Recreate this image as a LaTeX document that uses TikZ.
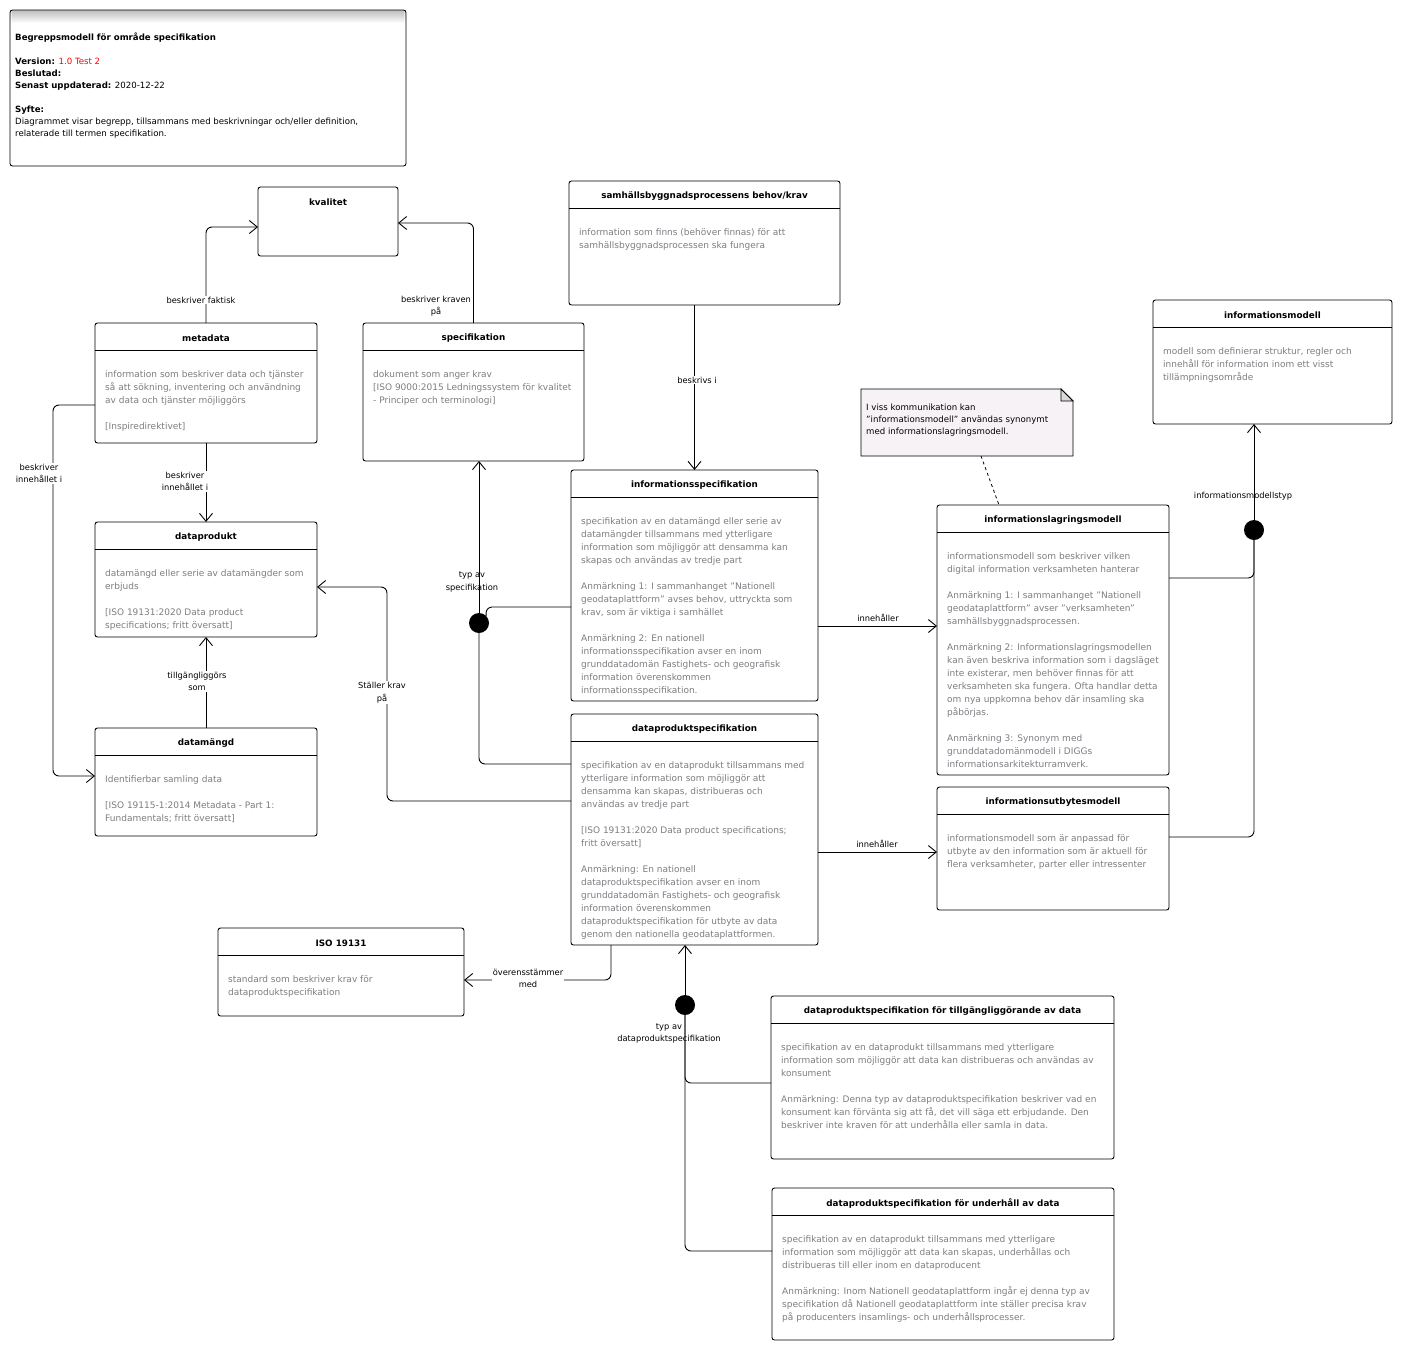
\documentclass[tikz,border=0pt]{standalone}
\usepackage{fontspec}
\setmainfont{DejaVu Sans}
\usepackage{xcolor}
\usepackage{tikz}
\usetikzlibrary{arrows.meta, positioning, calc}

\definecolor{brodgra}{RGB}{125,125,130}
\definecolor{notisfarg}{RGB}{247,242,246}

\tikzset{
    klass/.style={
        rectangle, rounded corners=2.5pt, draw=black, line width=0.9pt,
        inner sep=0pt, outer sep=0pt, anchor=north west
    },
    rubrik/.style={
        font=\fontsize{8.8}{13}\selectfont\bfseries, inner sep=0pt
    },
    brodtext/.style={
        anchor=north west, align=left, inner sep=0pt, text=brodgra,
        font=\fontsize{9}{13}\selectfont
    },
    ramtext/.style={
        anchor=north west, align=left, inner sep=0pt,
        font=\fontsize{8.6}{12}\selectfont
    },
    klasslinje/.style={line width=0.9pt},
    pil/.style={
        line width=0.9pt, rounded corners=6pt,
        -{Straight Barb[length=8pt, width=13pt]}
    },
    linje/.style={line width=0.9pt, rounded corners=6pt},
    streckad/.style={line width=0.8pt, dash pattern=on 3pt off 3pt},
    etikett/.style={
        font=\fontsize{8.3}{12.5}\selectfont, align=center,
        inner sep=1pt, fill=white
    },
    typetikett/.style={etikett, fill=none},
    knut/.style={circle, fill=black, minimum size=20pt, inner sep=0pt, outer sep=0pt},
    notis/.style={anchor=north west, inner sep=0pt, outer sep=0pt}
}

% begreppsruta: namn, vänster, topp, höger, botten, rubrik, text
\newcommand{\begrepp}[7]{%
    \node[klass, minimum width={(#4-#2)*1pt}, minimum height={(#5-#3)*1pt}] (#1) at (#2,#3) {};
    \node[rubrik] (#1-rubrik) at ($(#1.north)+(0,15.5)$) {#6};
    \draw[klasslinje] ($(#1.north west)+(0,27)$) -- ($(#1.north east)+(0,27)$);
    \node[brodtext] (#1-text) at ($(#1.north west)+(10,47)$) {#7};
}
\newcommand{\tomrad}{\\[13pt]\relax}

\begin{document}
\begin{tikzpicture}[x=1pt, y=-1pt]
    \useasboundingbox (0,0) rectangle (1403,1352);

    % ram med diagraminformation
    \node[klass, minimum width=396pt, minimum height=156pt,
        path picture={
            \foreach \i in {0,...,13}
                \fill[black!\the\numexpr 26-2*\i\relax]
                    ($(path picture bounding box.north west)+(0,\i)$) rectangle
                    ($(path picture bounding box.north east)+(0,\i+1)$);
        }] (ram) at (10,10) {};
    \node[ramtext] (ram-text) at (15,33) {\textbf{Begreppsmodell för område specifikation}\\[12pt]
        \textbf{Version:} \textcolor{red}{1.0 Test 2}\\
        \textbf{Beslutad:}\\
        \textbf{Senast uppdaterad:} 2020-12-22\\[12pt]
        \textbf{Syfte:}\\
        Diagrammet visar begrepp, tillsammans med beskrivningar och/eller definition,\\
        relaterade till termen specifikation.};

    % begrepp
    \node[klass, minimum width=140pt, minimum height=69pt] (kvalitet) at (258,187) {};
    \node[rubrik] (kvalitet-rubrik) at ($(kvalitet.north)+(0,15.5)$) {kvalitet};

    \begrepp{samhall}{569}{181}{840}{305}{samhällsbyggnadsprocessens behov/krav}
        {information som finns (behöver finnas) för att\\
        samhällsbyggnadsprocessen ska fungera}

    \begrepp{metadata}{95}{323}{317}{443}{metadata}
        {information som beskriver data och tjänster\\
        så att sökning, inventering och användning\\
        av data och tjänster möjliggörs\tomrad
        {[}Inspiredirektivet{]}}

    \begrepp{specifikation}{363}{323}{584}{461}{specifikation}
        {dokument som anger krav\\
        {[}ISO 9000:2015 Ledningssystem för kvalitet\\
        - Principer och terminologi{]}}

    \begrepp{infomodell}{1153}{300}{1392}{424}{informationsmodell}
        {modell som definierar struktur, regler och\\
        innehåll för information inom ett visst\\
        tillämpningsområde}

    \begrepp{infospec}{571}{470}{818}{701}{informationsspecifikation}
        {specifikation av en datamängd eller serie av\\
        datamängder tillsammans med ytterligare\\
        information som möjliggör att densamma kan\\
        skapas och användas av tredje part\tomrad
        Anmärkning 1: I sammanhanget "Nationell\\
        geodataplattform" avses behov, uttryckta som\\
        krav, som är viktiga i samhället\tomrad
        Anmärkning 2: En nationell\\
        informationsspecifikation avser en inom\\
        grunddatadomän Fastighets- och geografisk\\
        information överenskommen\\
        informationsspecifikation.}

    \begrepp{infolagring}{937}{505}{1169}{775}{informationslagringsmodell}
        {informationsmodell som beskriver vilken\\
        digital information verksamheten hanterar\tomrad
        Anmärkning 1: I sammanhanget "Nationell\\
        geodataplattform" avser "verksamheten"\\
        samhällsbyggnadsprocessen.\tomrad
        Anmärkning 2: Informationslagringsmodellen\\
        kan även beskriva information som i dagsläget\\
        inte existerar, men behöver finnas för att\\
        verksamheten ska fungera. Ofta handlar detta\\
        om nya uppkomna behov där insamling ska\\
        påbörjas.\tomrad
        Anmärkning 3: Synonym med\\
        grunddatadomänmodell i DIGGs\\
        informationsarkitekturramverk.}

    \begrepp{dataprodukt}{95}{522}{317}{637}{dataprodukt}
        {datamängd eller serie av datamängder som\\
        erbjuds\tomrad
        {[}ISO 19131:2020 Data product\\
        specifications; fritt översatt{]}}

    \begrepp{datamangd}{95}{728}{317}{836}{datamängd}
        {Identifierbar samling data\tomrad
        {[}ISO 19115-1:2014 Metadata - Part 1:\\
        Fundamentals; fritt översatt{]}}

    \begrepp{dps}{571}{714}{818}{945}{dataproduktspecifikation}
        {specifikation av en dataprodukt tillsammans med\\
        ytterligare information som möjliggör att\\
        densamma kan skapas, distribueras och\\
        användas av tredje part\tomrad
        {[}ISO 19131:2020 Data product specifications;\\
        fritt översatt{]}\tomrad
        Anmärkning: En nationell\\
        dataproduktspecifikation avser en inom\\
        grunddatadomän Fastighets- och geografisk\\
        information överenskommen\\
        dataproduktspecifikation för utbyte av data\\
        genom den nationella geodataplattformen.}

    \begrepp{infoutbyte}{937}{787}{1169}{910}{informationsutbytesmodell}
        {informationsmodell som är anpassad för\\
        utbyte av den information som är aktuell för\\
        flera verksamheter, parter eller intressenter}

    \begrepp{iso}{218}{928}{464}{1016}{ISO 19131}
        {standard som beskriver krav för\\
        dataproduktspecifikation}

    \begrepp{tillg}{771}{996}{1114}{1159}{dataproduktspecifikation för tillgängliggörande av data}
        {specifikation av en dataprodukt tillsammans med ytterligare\\
        information som möjliggör att data kan distribueras och användas av\\
        konsument\tomrad
        Anmärkning: Denna typ av dataproduktspecifikation beskriver vad en\\
        konsument kan förvänta sig att få, det vill säga ett erbjudande. Den\\
        beskriver inte kraven för att underhålla eller samla in data.}

    \begrepp{underhall}{772}{1188}{1114}{1340}{dataproduktspecifikation för underhåll av data}
        {specifikation av en dataprodukt tillsammans med ytterligare\\
        information som möjliggör att data kan skapas, underhållas och\\
        distribueras till eller inom en dataproducent\tomrad
        Anmärkning: Inom Nationell geodataplattform ingår ej denna typ av\\
        specifikation då Nationell geodataplattform inte ställer precisa krav\\
        på producenters insamlings- och underhållsprocesser.}

    % notis
    \node[notis, minimum width=212pt, minimum height=67pt] (notis) at (861,389) {};
    \filldraw[fill=notisfarg, line width=0.8pt] (notis.north west) -- ($(notis.north east)+(-12,0)$)
        -- ($(notis.north east)+(0,12)$) -- (notis.south east) -- (notis.south west) -- cycle;
    \filldraw[fill=black!15, line width=0.8pt] ($(notis.north east)+(-12,0)$) -- ($(notis.north east)+(-12,12)$)
        -- ($(notis.north east)+(0,12)$) -- cycle;
    \node[ramtext] (notis-text) at ($(notis.north west)+(5,15)$) {I viss kommunikation kan\\
        "informationsmodell" användas synonymt\\
        med informationslagringsmodell.};
    \draw[streckad] ($(notis.south west)+(120,0)$) -- ($(infolagring.north west)+(62,0)$);

    % knutpunkter
    \node[knut] (knut1) at (479,623) {};
    \node[knut] (knut2) at (1254,530) {};
    \node[knut] (knut3) at (685,1005) {};

    % relationer
    \draw[pil] (metadata.north) |- ($(kvalitet.north west)+(0,40)$);
    \draw[pil] (specifikation.north) |- ($(kvalitet.north east)+(0,36)$);
    \draw[pil] (metadata.south) -- (dataprodukt.north);
    \draw[pil] ($(metadata.north west)+(0,82)$) -- ++(-42,0) |- ($(datamangd.north west)+(0,48)$);
    \draw[pil] (datamangd.north) -- (dataprodukt.south);
    \draw[pil] ($(dps.north west)+(0,87)$) -| ($(dataprodukt.north east)+(70,65)$)
        -- ($(dataprodukt.north east)+(0,65)$);
    \draw[pil] (infospec.north |- samhall.south) -- (infospec.north);
    \draw[linje] ($(infospec.north west)+(0,137)$) -| (knut1.north east);
    \draw[linje] ($(dps.north west)+(0,50)$) -| (knut1.south);
    \draw[pil] (knut1.north) -- (knut1 |- specifikation.south);
    \draw[pil] ($(infospec.north east)+(0,156)$) -- ($(infolagring.north west)+(0,121)$);
    \draw[pil] ($(dps.north east)+(0,138)$) -- ($(infoutbyte.north west)+(0,65)$);
    \draw[linje] ($(infolagring.north east)+(0,73)$) -| (knut2.south);
    \draw[linje] ($(infoutbyte.north east)+(0,50)$) -| (knut2.south);
    \draw[pil] (knut2.north) -- (knut2 |- infomodell.south);
    \draw[pil] ($(dps.south west)+(40,0)$) |- ($(iso.north east)+(0,52)$);
    \draw[linje] ($(tillg.north west)+(0,87)$) -| (knut3.south);
    \draw[linje] ($(underhall.north west)+(0,63)$) -| (knut3.south);
    \draw[pil] (knut3.north) -- (knut3 |- dps.south);

    % etiketter
    \node[etikett] (lbl-faktisk) at (201,300) {beskriver faktisk};
    \node[etikett] (lbl-kraven) at (436,306) {beskriver kraven\\på};
    \node[etikett] (lbl-innehall1) at (185,481.5) {beskriver\\innehållet i};
    \node[etikett] (lbl-innehall2) at (39,473.5) {beskriver\\innehållet i};
    \node[etikett] (lbl-tillg) at (197,681.5) {tillgängliggörs\\som};
    \node[etikett] (lbl-staller) at (382,692.5) {Ställer krav\\på};
    \node[etikett] (lbl-beskrivs) at (697,380) {beskrivs i};
    \node[typetikett] (lbl-typspec) at (472,582) {typ av\\specifikation};
    \node[etikett, fill=none] (lbl-innehaller1) at (878,618) {innehåller};
    \node[etikett, fill=none] (lbl-innehaller2) at (877,844) {innehåller};
    \node[typetikett] (lbl-modelltyp) at (1243,496) {informationsmodellstyp};
    \node[etikett] (lbl-overens) at (528,978.5) {överensstämmer\\med};
    \node[typetikett] (lbl-typdps) at (669,1033.5) {typ av\\dataproduktspecifikation};
\end{tikzpicture}
\end{document}
